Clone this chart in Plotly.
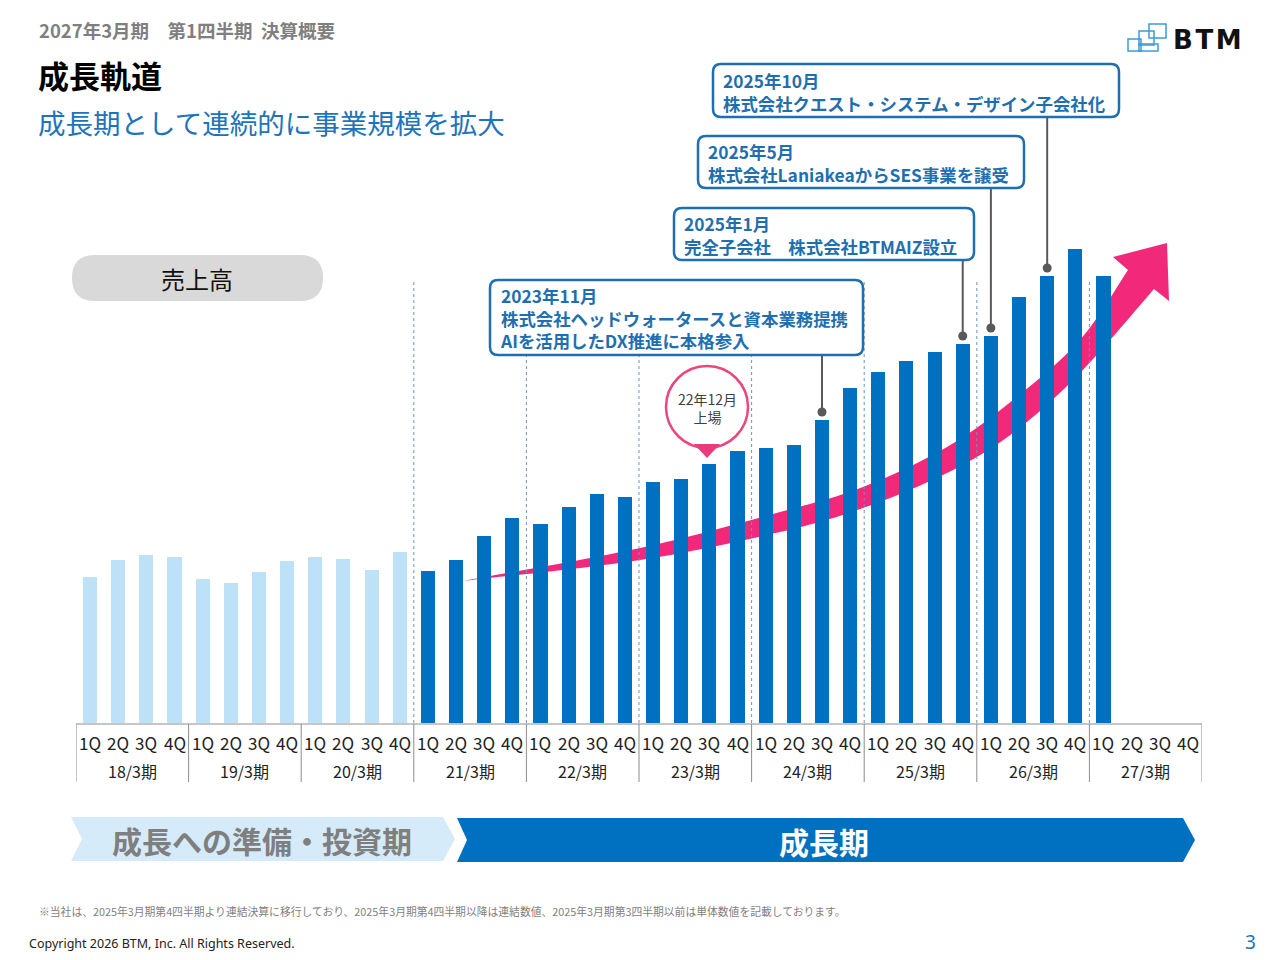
import plotly.graph_objects as go

# the page puts an 8px margin round the figure, so draw in page pixels minus that offset
OFF = 8
W, H = 1280 - OFF, 960 - OFF
FONT = "Noto Sans CJK JP"

# quarterly sales, 18/3期 1Q .. 27/3期 1Q (relative scale)
years = ["18/3期", "19/3期", "20/3期", "21/3期", "22/3期",
         "23/3期", "24/3期", "25/3期", "26/3期", "27/3期"]
quarters = ["1Q", "2Q", "3Q", "4Q"]
sales = [146, 163, 168, 166,
         144, 140, 151, 162,
         166, 164, 153, 171,
         152, 163, 187, 205,
         199, 216, 229, 226,
         241, 244, 259, 272,
         275, 278, 303, 335,
         351, 362, 371, 379,
         387, 426, 447, 474,
         447]
n_prep = 12  # 18/3〜20/3 = 成長への準備・投資期

# milestones (bar index they point to)
event_bar = [26, 31, 32, 34]
event_text = [
    ["2023年11月", "株式会社ヘッドウォータースと資本業務提携", "AIを活用したDX推進に本格参入"],
    ["2025年1月", "完全子会社　株式会社BTMAIZ設立"],
    ["2025年5月", "株式会社LaniakeaからSES事業を譲受"],
    ["2025年10月", "株式会社クエスト・システム・デザイン子会社化"],
]
ipo_bar = 22
ipo_text = ["22年12月", "上場"]

footnote = ("※当社は、2025年3月期第4四半期より連結決算に移行しており、2025年3月期第4四半期以降は連結数値、"
            "2025年3月期第3四半期以前は単体数値を記載しております。")

# --- layout helpers (page pixel -> paper) ---
def px(x):
    return (x - OFF) / W

def py(y):
    return 1 - (y - OFF) / H

X0, X1 = 76, 1202      # plot area left/right
BASE = 723             # baseline
Y_MAX = BASE - OFF     # axis reaches the top of the figure, 1 unit = 1 px

def yval(pix):
    return BASE - pix

def rrect(x0, y0, x1, y1, r):
    p = [("M", x0 + r, y0), ("L", x1 - r, y0), ("Q", x1, y0, x1, y0 + r),
         ("L", x1, y1 - r), ("Q", x1, y1, x1 - r, y1), ("L", x0 + r, y1),
         ("Q", x0, y1, x0, y1 - r), ("L", x0, y0 + r), ("Q", x0, y0, x0 + r, y0)]
    s = ""
    for seg in p:
        nums = seg[1:]
        pts = " ".join(f"{px(nums[i]):.5f},{py(nums[i+1]):.5f}" for i in range(0, len(nums), 2))
        s += f"{seg[0]} {pts} "
    return s + "Z"

def poly(pts):
    return "M " + " L ".join(f"{px(x):.5f},{py(y):.5f}" for x, y in pts) + " Z"

def smooth(pts):
    # catmull-rom -> cubic bezier
    s = ""
    for i in range(len(pts) - 1):
        p0 = pts[i - 1] if i > 0 else pts[i]
        p1, p2 = pts[i], pts[i + 1]
        p3 = pts[i + 2] if i + 2 < len(pts) else pts[i + 1]
        c1 = (p1[0] + (p2[0] - p0[0]) / 6, p1[1] + (p2[1] - p0[1]) / 6)
        c2 = (p2[0] - (p3[0] - p1[0]) / 6, p2[1] - (p3[1] - p1[1]) / 6)
        s += " C " + " ".join(f"{px(a):.5f},{py(b):.5f}" for a, b in (c1, c2, p2))
    return s

def text(x, y, t, size, color, anchor="center", family=None):
    f = dict(size=size, color=color)
    if family:
        f["family"] = family
    return dict(x=px(x), y=py(y), xref="paper", yref="paper", text=t, showarrow=False,
                xanchor=anchor, yanchor="middle", align=anchor if anchor != "center" else "center",
                font=f)

fig = go.Figure()

colors = ["#BDE2F8" if i < n_prep else "#0070C0" for i in range(len(sales))]
fig.add_trace(go.Bar(x=list(range(len(sales))), y=sales, width=0.5,
                     marker=dict(color=colors, line_width=0), hoverinfo="skip"))

# leader-line dots
fig.add_trace(go.Scatter(x=event_bar, y=[sales[i] + 8 for i in event_bar], mode="markers",
                         marker=dict(color="#595959", size=9), hoverinfo="skip"))

shapes = []
annotations = []

# pink growth arrow (behind the bars)
upper = [(463, 581), (640, 548), (780, 512), (863, 487), (947, 447), (1013, 400), (1080, 340), (1128, 270)]
head = [(1113, 257), (1167, 243), (1169, 301), (1154, 289)]
lower = [(1154, 289), (1080, 373), (1013, 433), (947, 473), (863, 508), (780, 532), (640, 560), (463, 581)]
arrow = (f"M {px(upper[0][0]):.5f},{py(upper[0][1]):.5f}" + smooth(upper) +
         "".join(f" L {px(x):.5f},{py(y):.5f}" for x, y in head) + smooth(lower) + " Z")
shapes.append(dict(type="path", xref="paper", yref="paper", path=arrow,
                   fillcolor="#F2297B", line_width=0, layer="below"))

# dashed year separators
for k in range(3, 10):
    shapes.append(dict(type="line", xref="x", yref="y", x0=4 * k - 0.5, x1=4 * k - 0.5,
                       y0=0, y1=yval(280), line=dict(color="#6A96BE", width=1, dash="3px,3px"),
                       layer="below"))

# x-axis table
shapes.append(dict(type="line", xref="x", yref="paper", x0=-0.5, x1=39.5, y0=py(724), y1=py(724),
                   line=dict(color="#8C8C8C", width=1)))
for k in range(11):
    shapes.append(dict(type="line", xref="x", yref="paper", x0=4 * k - 0.5, x1=4 * k - 0.5,
                       y0=py(724), y1=py(782), line=dict(color="#8C8C8C", width=1)))
for i in range(40):
    annotations.append(dict(x=i, y=py(742), xref="x", yref="paper", text=quarters[i % 4],
                            showarrow=False, font=dict(size=17, color="#222222"),
                            xanchor="center", yanchor="middle"))
for k, yr in enumerate(years):
    annotations.append(dict(x=4 * k + 1.5, y=py(771), xref="x", yref="paper", text=yr,
                            showarrow=False, font=dict(size=16, color="#222222"),
                            xanchor="center", yanchor="middle"))

# milestone boxes
boxes = [(490, 280, 863, 355), (674, 208, 974, 260), (698, 136, 1024, 188), (713, 64, 1119, 117)]
BOX_C = "#1F6FB0"
for bar, lines, (bx0, by0, bx1, by1) in zip(event_bar, event_text, boxes):
    shapes.append(dict(type="line", xref="x", yref="y", x0=bar, x1=bar,
                       y0=sales[bar] + 8, y1=yval(by1), line=dict(color="#595959", width=2)))
    shapes.append(dict(type="path", xref="paper", yref="paper", path=rrect(bx0, by0, bx1, by1, 8),
                       fillcolor="white", line=dict(color=BOX_C, width=2.5)))
    annotations.append(text(bx0 + 8, (by0 + by1) / 2 + 1, "<b>" + "<br>".join(lines) + "</b>",
                            17.4, BOX_C, anchor="left"))

# IPO pin
shapes.append(dict(type="circle", xref="paper", yref="paper", x0=px(666), x1=px(748),
                   y0=py(448), y1=py(366), fillcolor="white", line=dict(color="#E9477F", width=2.5)))
shapes.append(dict(type="path", xref="paper", yref="paper",
                   path=poly([(694, 444), (720, 444), (707, 458)]), fillcolor="#EC3A7E", line_width=0))
annotations.append(text(707, 408, "<br>".join(ipo_text), 14, "#404040"))

# phase banners
shapes.append(dict(type="path", xref="paper", yref="paper",
                   path=poly([(71, 817), (443, 817), (455, 839), (443, 861), (71, 861), (82, 839)]),
                   fillcolor="#D5EBFA", line_width=0))
shapes.append(dict(type="path", xref="paper", yref="paper",
                   path=poly([(457, 818), (1183, 818), (1195, 840), (1183, 862), (457, 862), (467, 840)]),
                   fillcolor="#0070C0", line_width=0))
annotations.append(text(262, 840, "<b>成長への準備・投資期</b>", 30, "#7F7F7F"))
annotations.append(text(824, 841, "<b>成長期</b>", 30, "white"))

# 売上高 pill
shapes.append(dict(type="path", xref="paper", yref="paper", path=rrect(72, 255, 323, 301, 23),
                   fillcolor="#D9D9D9", line_width=0))
annotations.append(text(197, 278, "売上高", 24, "#111111"))

# header
annotations.append(text(37, 30, "<b>2027年3月期　第1四半期\u00a0\u00a0決算概要</b>", 18.5, "#7F7F7F", anchor="left"))
annotations.append(text(36, 75, "<b>成長軌道</b>", 31, "#000000", anchor="left"))
annotations.append(text(36, 122, "成長期として連続的に事業規模を拡大", 27.5, "#1C75BC", anchor="left"))

# logo
for x0, y0, x1, y1 in [(1149, 24, 1166, 38), (1139, 31, 1154, 45), (1128, 39, 1141, 51), (1139, 44, 1158, 51)]:
    shapes.append(dict(type="rect", xref="paper", yref="paper", x0=px(x0), x1=px(x1), y0=py(y1), y1=py(y0),
                       line=dict(color="#3D9AD8", width=1.5), fillcolor="rgba(0,0,0,0)"))
annotations.append(text(1171, 40, "<b>B\u200aT\u200aM</b>", 26, "#111111", anchor="left", family="DejaVu Sans"))

# footer
annotations.append(text(37, 911, footnote, 10.8, "#7F7F7F", anchor="left"))
annotations.append(text(27, 943, "Copyright 2026 BTM, Inc. All Rights Reserved.", 12.5, "#222222",
                        anchor="left", family="Noto Sans"))
annotations.append(text(1250, 942, "3", 19, "#1C75BC", family="Noto Sans"))

fig.update_layout(
    width=W, height=H, margin=dict(l=0, r=0, t=0, b=0),
    paper_bgcolor="white", plot_bgcolor="white",
    font=dict(family=FONT), showlegend=False, bargap=0,
    shapes=shapes, annotations=annotations,
    xaxis=dict(domain=[px(X0), px(X1)], range=[-0.5, 39.5], showgrid=False, zeroline=False,
               showticklabels=False, fixedrange=True),
    yaxis=dict(domain=[py(BASE), 1], range=[0, Y_MAX], showgrid=False, zeroline=False,
               showticklabels=False, fixedrange=True),
)

fig.write_html("out.html")
